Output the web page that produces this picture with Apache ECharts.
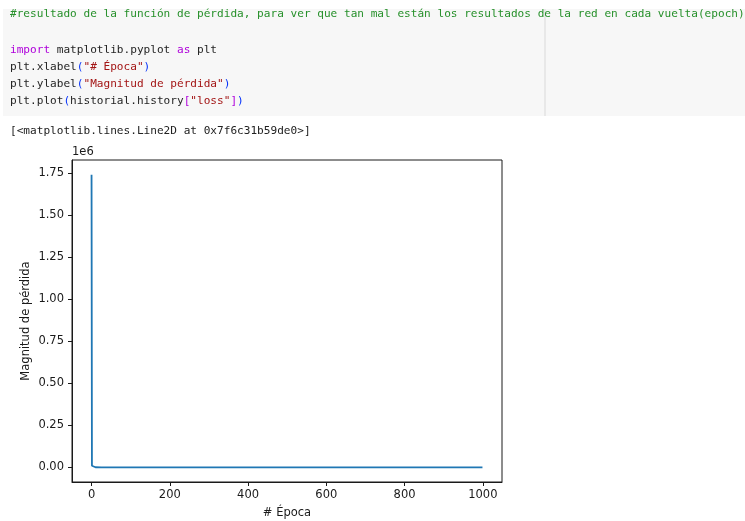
<!DOCTYPE html>
<html>
<head>
<meta charset="utf-8">
<script src="https://cdn.jsdelivr.net/npm/echarts@6/dist/echarts.min.js"></script>
<style>
  html, body { margin: 0; padding: 0; background: #ffffff; }
  #chart { width: 745px; height: 521px; }
</style>
</head>
<body>
<div id="chart"></div>
<script>
// Training loss per epoch (historial.history["loss"]), sampled epochs
const epochs = [0, 1, 2, 3, 5, 10, 25, 50, 100, 200, 300, 400, 500, 600, 700, 800, 900, 999];
const loss = [1742000, 9800, 4100, 2600, 1500, 900, 600, 450, 380, 320, 300, 290, 285, 280, 278, 276, 275, 274];

// Tick labels
const xTicks = [0, 200, 400, 600, 800, 1000];
const yTicks = [0, 250000, 500000, 750000, 1000000, 1250000, 1500000, 1750000];

// Notebook cell text
const codeLines = [
  '{c|#resultado de la función de pérdida, para ver que tan mal están los resultados de la red en cada vuelta(epoch)}',
  '',
  '{k|import} matplotlib.pyplot {k|as} plt',
  'plt.xlabel{p|(}{s|"# Época"}{p|)}',
  'plt.ylabel{p|(}{s|"Magnitud de pérdida"}{p|)}',
  'plt.plot{p|(}historial.history{b|[}{s|"loss"}{b|]}{p|)}'
];
const outputText = '[<matplotlib.lines.Line2D at 0x7f6c31b59de0>]';
const xLabel = '# Época';
const yLabel = 'Magnitud de pérdida';

// 5% padding around the data range on each axis
function padded(arr) {
  const lo = Math.min(...arr), hi = Math.max(...arr);
  const m = (hi - lo) * 0.05;
  return [lo - m, hi + m];
}
const [xMin, xMax] = padded(epochs);
const [yMin, yMax] = padded(loss);

const chart = echarts.init(document.getElementById('chart'), null, { renderer: 'canvas' });

const mono = 'DejaVu Sans Mono';
const sans = 'DejaVu Sans';
const codeFont = '11.1px "' + mono + '"';
const tickColor = '#1a1a1a';

const codeGraphics = codeLines.map((t, i) => ({
  type: 'text',
  left: 10,
  top: (i === 0 ? 9 : 11 + i * 17),
  style: {
    text: t,
    font: codeFont,
    fill: '#1f1f1f',
    rich: {
      c: { fill: '#26902a', font: codeFont },
      k: { fill: '#af00db', font: codeFont },
      s: { fill: '#a31515', font: codeFont },
      p: { fill: '#0431fa', font: codeFont },
      b: { fill: '#af00db', font: codeFont }
    }
  }
}));

chart.setOption({
  animation: false,
  backgroundColor: '#ffffff',
  graphic: [
    { type: 'rect', shape: { x: 3, y: 9, width: 742, height: 107 }, style: { fill: '#f7f7f7' }, z: -10 },
    { type: 'line', shape: { x1: 545, y1: 9, x2: 545, y2: 116 }, style: { stroke: '#e3e3e3', lineWidth: 1.5 }, z: -9 },
    ...codeGraphics,
    {
      type: 'text', left: 10, top: 126,
      style: { text: outputText, font: codeFont, fill: '#212121' }
    },
    {
      type: 'text', left: 72, top: 146,
      style: { text: '1e6', font: '11.5px "' + sans + '"', fill: tickColor }
    }
  ],
  grid: {
    left: 72, top: 160, width: 430, height: 322,
    outerBoundsMode: 'none',
    containLabel: false,
    show: true, borderColor: tickColor, borderWidth: 1, backgroundColor: 'transparent'
  },
  xAxis: {
    type: 'value',
    min: xMin, max: xMax,
    name: xLabel,
    nameLocation: 'middle',
    nameGap: 25,
    nameMoveOverlap: false,
    nameTextStyle: { fontFamily: sans, fontSize: 11.5, color: tickColor },
    axisLine: { show: true, onZero: false, lineStyle: { color: tickColor, width: 1 } },
    axisTick: { show: true, customValues: xTicks, length: 4, lineStyle: { color: tickColor } },
    axisLabel: {
      customValues: xTicks, margin: 7,
      fontFamily: sans, fontSize: 11.5, color: tickColor,
      formatter: v => String(v)
    },
    splitLine: { show: false }
  },
  yAxis: {
    type: 'value',
    min: yMin, max: yMax,
    name: yLabel,
    nameLocation: 'middle',
    nameGap: 40,
    nameMoveOverlap: false,
    nameRotate: 90,
    nameTextStyle: { fontFamily: sans, fontSize: 11.5, color: tickColor },
    axisLine: { show: true, onZero: false, lineStyle: { color: tickColor, width: 1 } },
    axisTick: { show: true, customValues: yTicks, length: 4, lineStyle: { color: tickColor } },
    axisLabel: {
      customValues: yTicks, margin: 8,
      fontFamily: sans, fontSize: 11.5, color: tickColor,
      formatter: v => (v / 1e6).toFixed(2)
    },
    splitLine: { show: false }
  },
  series: [{
    type: 'line',
    data: epochs.map((e, i) => [e, loss[i]]),
    showSymbol: false,
    lineStyle: { color: '#1f77b4', width: 1.8 },
    itemStyle: { color: '#1f77b4' }
  }]
});
</script>
</body>
</html>
